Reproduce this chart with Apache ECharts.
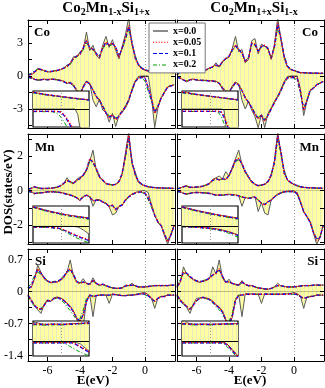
<!DOCTYPE html>
<html><head><meta charset="utf-8">
<script src="https://cdn.jsdelivr.net/npm/echarts@6/dist/echarts.min.js"></script>
<style>html,body{margin:0;padding:0;background:#fff}#c{width:325px;height:388px}</style>
</head><body><div id="c"></div><script>
// ---------- DATA ----------
const seriesNames = ['x=0.0', 'x=0.05', 'x=0.1', 'x=0.2'];
const xTickValues = [-6, -4, -2, 0];
const energy = [-7.2,-7.0,-6.8,-6.6,-6.4,-6.2,-6.0,-5.8,-5.6,-5.4,-5.2,-5.0,-4.8,-4.6,-4.4,-4.2,-4.0,-3.8,-3.6,-3.4,-3.2,-3.0,-2.8,-2.6,-2.4,-2.2,-2.0,-1.8,-1.6,-1.4,-1.2,-1.0,-0.8,-0.6,-0.4,-0.2,0.0,0.2,0.4,0.6,0.8,1.0,1.2,1.4,1.6,1.8];
const insetE = [-0.5,-0.45,-0.4,-0.35,-0.3,-0.25,-0.2,-0.15,-0.1,-0.05,0,0.05,0.1,0.15,0.2,0.25,0.3,0.35,0.4,0.45,0.5];

// Panel A = Co2Mn1-xSi1+x (left), Panel B = Co2Mn1+xSi1-x (right)
// Co, panel A
const coA_up_x00 = [0.08,0.12,0.30,0.70,0.62,0.48,0.38,0.36,0.45,0.48, 0.58,0.72,1.00,1.10,1.75,1.70,2.20,2.40,4.00,2.30, 2.80,1.90,1.55,2.80,3.60,2.60,3.30,2.30,1.55,2.70, 3.80,5.30,2.80,1.90,0.95,0.65,0.52,0.44,0.40,0.38, 0.36,0.35,0.34,0.33,0.32,0.30];
const coA_up_x05 = [0.10,0.15,0.35,0.60,0.60,0.50,0.40,0.40,0.45,0.50, 0.60,0.70,0.85,1.15,1.60,1.80,2.00,2.60,3.30,2.50, 2.50,2.00,1.70,2.60,3.10,2.80,3.00,2.60,1.70,2.60, 3.50,4.60,3.00,1.60,1.00,0.70,0.55,0.45,0.40,0.38, 0.36,0.35,0.34,0.33,0.32,0.30];
const coA_up_x10 = [0.10,0.16,0.38,0.62,0.58,0.48,0.40,0.41,0.45,0.52, 0.62,0.72,0.86,1.12,1.62,1.82,1.98,2.55,3.20,2.55, 2.45,2.05,1.72,2.55,3.05,2.80,2.95,2.62,1.75,2.55, 3.45,4.50,3.05,1.65,1.02,0.72,0.56,0.46,0.40,0.37, 0.36,0.35,0.34,0.33,0.32,0.30];
const coA_up_x20 = [0.12,0.25,0.48,0.60,0.52,0.45,0.40,0.42,0.47,0.52, 0.62,0.72,0.85,1.05,1.50,1.75,1.95,2.40,3.00,2.60, 2.35,2.05,1.80,2.45,2.90,2.75,2.85,2.60,1.85,2.45, 3.30,4.20,3.10,1.75,1.08,0.75,0.58,0.48,0.42,0.38, 0.36,0.35,0.34,0.33,0.32,0.30];
const coA_dn_x00 = [-0.08,-0.12,-0.28,-0.40,-0.38,-0.28,-0.38,-0.28,-0.28,-0.34, -0.38,-0.48,-0.70,-0.55,-0.80,-1.40,-1.90,-0.90,-0.45,-0.65, -2.20,-2.80,-2.10,-3.10,-3.30,-4.20,-3.40,-4.60,-3.60,-3.30, -2.90,-2.30,-1.20,-0.45,-0.05,0.00,0.00,0.00,-1.90,-4.70, -2.90,-2.00,-1.50,-1.00,-0.90,-0.80];
const coA_dn_x05 = [-0.10,-0.15,-0.30,-0.35,-0.35,-0.30,-0.35,-0.30,-0.30,-0.35, -0.40,-0.50,-0.65,-0.60,-0.85,-1.30,-1.70,-1.00,-0.50,-0.70, -1.30,-1.90,-2.20,-2.80,-3.40,-3.80,-3.50,-4.00,-3.70,-3.20, -2.80,-2.20,-1.30,-0.50,-0.15,-0.12,-0.15,-1.00,-2.00,-3.40, -2.80,-2.00,-1.50,-1.00,-0.90,-0.80];
const coA_dn_x10 = [-0.10,-0.16,-0.31,-0.36,-0.34,-0.31,-0.34,-0.31,-0.31,-0.36, -0.42,-0.52,-0.66,-0.62,-0.88,-1.28,-1.65,-1.02,-0.52,-0.72, -1.28,-1.85,-2.22,-2.75,-3.35,-3.75,-3.52,-3.95,-3.65,-3.20, -2.78,-2.18,-1.32,-0.52,-0.17,-0.14,-0.17,-1.10,-2.10,-3.35, -2.75,-2.00,-1.48,-1.00,-0.90,-0.80];
const coA_dn_x20 = [-0.12,-0.22,-0.34,-0.36,-0.33,-0.30,-0.33,-0.31,-0.32,-0.36, -0.44,-0.54,-0.66,-0.66,-0.92,-1.25,-1.55,-1.05,-0.58,-0.75, -1.25,-1.80,-2.20,-2.70,-3.25,-3.65,-3.50,-3.85,-3.60,-3.15, -2.75,-2.15,-1.35,-0.58,-0.22,-0.20,-0.45,-1.40,-2.30,-3.25, -2.70,-2.00,-1.45,-1.00,-0.90,-0.80];
// Co, panel B
const coB_up_x00 = [0.08,0.35,0.60,0.78,0.50,0.38,0.42,0.52,0.40,0.58, 0.72,0.80,1.20,0.80,1.35,1.55,1.70,2.50,3.60,2.20, 2.40,1.20,1.50,3.20,3.40,2.00,2.90,2.70,2.60,1.50, 2.90,5.30,3.30,1.60,0.80,0.58,0.48,0.38,0.29,0.29, 0.27,0.26,0.25,0.25,0.24,0.24];
const coB_up_x05 = [0.10,0.40,0.55,0.70,0.55,0.40,0.40,0.50,0.45,0.55, 0.70,0.85,1.00,0.85,1.30,1.60,1.75,2.40,2.80,2.40, 2.10,1.30,1.60,3.00,2.90,2.20,2.70,2.80,2.50,1.60, 2.70,4.80,3.40,1.75,0.85,0.60,0.50,0.40,0.30,0.30, 0.28,0.27,0.26,0.25,0.25,0.24];
const coB_up_x10 = [0.10,0.38,0.56,0.68,0.54,0.41,0.40,0.49,0.46,0.56, 0.70,0.84,0.98,0.87,1.28,1.58,1.78,2.35,2.75,2.42, 2.08,1.35,1.62,2.95,2.85,2.25,2.68,2.78,2.48,1.62, 2.65,4.70,3.40,1.78,0.88,0.62,0.50,0.40,0.31,0.30, 0.28,0.27,0.26,0.25,0.25,0.24];
const coB_up_x20 = [0.12,0.42,0.55,0.62,0.52,0.42,0.41,0.48,0.47,0.56, 0.70,0.82,0.95,0.88,1.25,1.55,1.80,2.30,2.65,2.40, 2.05,1.40,1.70,2.85,2.80,2.30,2.62,2.72,2.45,1.70, 2.60,4.40,3.35,1.85,0.92,0.64,0.52,0.41,0.32,0.30, 0.28,0.27,0.26,0.25,0.25,0.24];
const coB_dn_x00 = [-0.08,-0.18,-0.38,-0.55,-0.32,-0.28,-0.38,-0.42,-0.38,-0.42, -0.44,-0.42,-0.48,-0.68,-1.20,-1.50,-1.60,-0.90,-0.55,-0.75, -2.20,-3.00,-2.30,-3.10,-3.70,-4.70,-3.50,-4.70,-3.40,-2.90, -2.30,-1.80,-1.20,-0.50,-0.05,0.00,0.00,0.00,-1.20,-3.60, -2.30,-1.30,-1.10,-0.80,-0.65,-0.50];
const coB_dn_x05 = [-0.10,-0.20,-0.35,-0.50,-0.35,-0.30,-0.35,-0.40,-0.40,-0.40, -0.45,-0.45,-0.50,-0.65,-1.10,-1.40,-1.50,-1.00,-0.60,-0.80, -1.30,-2.00,-2.40,-2.90,-3.50,-3.90,-3.60,-4.10,-3.60,-3.00, -2.40,-1.90,-1.30,-0.60,-0.15,-0.12,-0.12,-0.18,-1.40,-3.10, -2.20,-1.30,-1.10,-0.80,-0.65,-0.50];
const coB_dn_x10 = [-0.10,-0.21,-0.36,-0.48,-0.36,-0.31,-0.35,-0.39,-0.41,-0.41, -0.46,-0.46,-0.52,-0.66,-1.08,-1.38,-1.48,-1.02,-0.62,-0.82, -1.32,-1.98,-2.38,-2.85,-3.45,-3.85,-3.58,-4.05,-3.58,-3.00, -2.42,-1.90,-1.32,-0.62,-0.17,-0.14,-0.14,-0.20,-1.45,-3.05, -2.20,-1.32,-1.10,-0.80,-0.65,-0.50];
const coB_dn_x20 = [-0.12,-0.24,-0.36,-0.45,-0.36,-0.32,-0.35,-0.38,-0.41,-0.42, -0.46,-0.48,-0.55,-0.70,-1.05,-1.35,-1.45,-1.05,-0.65,-0.85, -1.32,-1.95,-2.35,-2.80,-3.38,-3.75,-3.55,-3.95,-3.55,-3.00, -2.45,-1.92,-1.35,-0.66,-0.20,-0.17,-0.18,-0.40,-1.60,-2.95, -2.20,-1.35,-1.10,-0.80,-0.65,-0.50];
// Mn, panel A
const mnA_up_x00 = [0.09,0.12,0.25,0.15,0.12,0.14,0.12,0.14,0.18,0.19, 0.28,0.40,0.75,0.48,0.40,0.66,0.80,0.85,1.15,1.70, 2.35,1.20,0.75,0.65,0.40,0.36,0.32,0.38,0.50,0.95, 2.20,3.40,1.55,1.10,0.48,0.36,0.28,0.22,0.19,0.18, 0.17,0.16,0.15,0.15,0.14,0.14];
const mnA_up_x05 = [0.10,0.13,0.23,0.17,0.13,0.13,0.13,0.15,0.17,0.20, 0.29,0.42,0.60,0.52,0.42,0.62,0.70,0.90,1.20,1.87, 1.68,1.30,0.80,0.62,0.42,0.37,0.33,0.37,0.52,1.00, 2.06,3.20,1.68,0.90,0.52,0.37,0.29,0.23,0.20,0.18, 0.17,0.16,0.15,0.15,0.14,0.14];
const mnA_up_x10 = [0.10,0.14,0.22,0.18,0.13,0.13,0.14,0.15,0.17,0.21, 0.30,0.43,0.58,0.53,0.44,0.60,0.71,0.92,1.22,1.82, 1.66,1.28,0.82,0.60,0.43,0.37,0.34,0.37,0.53,1.02, 2.02,3.15,1.70,0.92,0.54,0.38,0.30,0.23,0.20,0.18, 0.17,0.16,0.15,0.15,0.14,0.14];
const mnA_up_x20 = [0.11,0.16,0.22,0.18,0.14,0.13,0.14,0.16,0.18,0.22, 0.31,0.44,0.56,0.52,0.45,0.58,0.70,0.92,1.20,1.72, 1.60,1.25,0.85,0.60,0.44,0.38,0.34,0.38,0.55,1.02, 1.95,3.00,1.75,0.95,0.56,0.39,0.30,0.24,0.20,0.18, 0.17,0.16,0.15,0.15,0.14,0.14];
const mnA_dn_x00 = [-0.04,-0.05,-0.18,-0.13,-0.11,-0.10,-0.05,-0.06,-0.05,-0.08, -0.09,-0.14,-0.19,-0.24,-0.29,-0.42,-0.58,-0.33,-0.24,-0.34, -0.90,-0.50,-0.52,-0.66,-0.75,-0.95,-1.40,-1.30,-0.90,-0.85, -0.52,-0.33,-0.20,-0.11,-0.04,0.00,0.00,-0.10,-0.80,-1.40, -1.85,-2.00,-2.60,-3.10,-2.50,-2.00];
const mnA_dn_x05 = [-0.05,-0.06,-0.17,-0.14,-0.12,-0.10,-0.06,-0.06,-0.06,-0.08, -0.10,-0.15,-0.20,-0.25,-0.30,-0.40,-0.54,-0.35,-0.25,-0.35, -0.60,-0.54,-0.54,-0.64,-0.73,-0.92,-0.83,-1.12,-0.92,-0.83, -0.54,-0.35,-0.21,-0.12,-0.08,-0.06,-0.13,-0.38,-0.83,-1.40, -1.80,-2.00,-2.55,-2.95,-2.55,-2.00];
const mnA_dn_x10 = [-0.05,-0.07,-0.16,-0.14,-0.12,-0.10,-0.07,-0.06,-0.07,-0.08, -0.11,-0.15,-0.21,-0.26,-0.31,-0.41,-0.52,-0.36,-0.26,-0.36, -0.58,-0.55,-0.55,-0.64,-0.74,-0.90,-0.84,-1.08,-0.92,-0.82, -0.55,-0.36,-0.22,-0.13,-0.09,-0.07,-0.15,-0.42,-0.86,-1.42, -1.80,-2.02,-2.52,-2.92,-2.55,-2.00];
const mnA_dn_x20 = [-0.06,-0.08,-0.16,-0.14,-0.12,-0.10,-0.07,-0.07,-0.07,-0.09, -0.12,-0.16,-0.22,-0.27,-0.33,-0.42,-0.50,-0.38,-0.28,-0.37, -0.56,-0.55,-0.56,-0.64,-0.74,-0.88,-0.84,-1.04,-0.92,-0.80, -0.56,-0.38,-0.24,-0.15,-0.11,-0.09,-0.20,-0.52,-0.95,-1.45, -1.82,-2.05,-2.50,-2.88,-2.55,-2.00];
// Mn, panel B
const mnB_up_x00 = [0.09,0.16,0.24,0.30,0.17,0.19,0.22,0.21,0.28,0.31, 0.40,0.65,0.75,0.85,0.68,1.10,0.85,1.35,1.85,2.35, 1.50,1.05,0.78,0.50,0.36,0.28,0.32,0.38,0.50,0.85, 1.75,3.40,2.10,1.20,0.60,0.46,0.36,0.28,0.22,0.19, 0.18,0.17,0.16,0.15,0.15,0.14];
const mnB_up_x05 = [0.10,0.17,0.23,0.27,0.19,0.20,0.21,0.22,0.27,0.33, 0.42,0.62,0.71,0.62,0.71,0.62,0.90,1.30,1.77,1.87, 1.58,1.10,0.80,0.52,0.37,0.29,0.33,0.37,0.52,0.90, 1.68,3.20,2.25,1.00,0.62,0.48,0.37,0.29,0.23,0.20, 0.18,0.17,0.16,0.15,0.15,0.14];
const mnB_up_x10 = [0.10,0.16,0.24,0.26,0.20,0.20,0.21,0.23,0.27,0.34, 0.43,0.60,0.70,0.63,0.70,0.64,0.88,1.28,1.74,1.84, 1.56,1.12,0.80,0.53,0.38,0.30,0.33,0.38,0.53,0.92, 1.65,3.15,2.25,1.02,0.63,0.48,0.37,0.29,0.23,0.20, 0.18,0.17,0.16,0.15,0.15,0.14];
const mnB_up_x20 = [0.11,0.18,0.24,0.25,0.21,0.21,0.22,0.24,0.28,0.35, 0.44,0.58,0.68,0.63,0.68,0.66,0.86,1.24,1.68,1.78, 1.52,1.14,0.82,0.55,0.40,0.31,0.34,0.39,0.55,0.95, 1.62,3.00,2.20,1.05,0.65,0.50,0.38,0.30,0.24,0.20, 0.18,0.17,0.16,0.15,0.15,0.14];
const mnB_dn_x00 = [-0.04,-0.05,-0.16,-0.21,-0.14,-0.11,-0.09,-0.10,-0.12,-0.12, -0.14,-0.19,-0.26,-0.24,-0.26,-0.22,-0.20,-0.22,-0.24,-0.29, -0.90,-0.38,-0.45,-0.38,-0.34,-1.20,-0.70,-1.30,-1.40,-0.52, -0.33,-0.20,-0.11,-0.05,-0.02,0.00,0.00,-0.12,-0.62,-1.22, -1.50,-1.78,-2.45,-3.10,-2.70,-2.00];
const mnB_dn_x05 = [-0.05,-0.06,-0.15,-0.19,-0.15,-0.12,-0.10,-0.10,-0.12,-0.13, -0.15,-0.20,-0.25,-0.25,-0.25,-0.23,-0.21,-0.23,-0.25,-0.30, -0.35,-0.40,-0.44,-0.40,-0.35,-0.54,-0.73,-0.83,-0.64,-0.54, -0.35,-0.21,-0.12,-0.06,-0.04,-0.04,-0.05,-0.15,-0.64,-1.20, -1.50,-1.80,-2.40,-2.85,-2.75,-2.00];
const mnB_dn_x10 = [-0.05,-0.07,-0.15,-0.18,-0.15,-0.12,-0.10,-0.11,-0.12,-0.13, -0.16,-0.21,-0.25,-0.26,-0.25,-0.23,-0.22,-0.24,-0.26,-0.30, -0.36,-0.40,-0.44,-0.41,-0.37,-0.54,-0.72,-0.80,-0.64,-0.54, -0.36,-0.22,-0.13,-0.07,-0.05,-0.05,-0.06,-0.17,-0.66,-1.20, -1.50,-1.82,-2.40,-2.82,-2.72,-2.00];
const mnB_dn_x20 = [-0.06,-0.08,-0.15,-0.18,-0.15,-0.12,-0.11,-0.11,-0.12,-0.14, -0.17,-0.21,-0.25,-0.26,-0.26,-0.24,-0.23,-0.25,-0.27,-0.31, -0.37,-0.41,-0.44,-0.42,-0.39,-0.54,-0.70,-0.78,-0.64,-0.54, -0.37,-0.23,-0.14,-0.08,-0.06,-0.06,-0.08,-0.22,-0.70,-1.22, -1.52,-1.85,-2.38,-2.78,-2.70,-2.00];
// Si, panel A
const siA_up_x00 = [0.06,0.09,0.27,0.58,0.42,0.28,0.22,0.19,0.20,0.21, 0.24,0.30,0.42,0.69,0.34,0.20,0.18,0.28,0.17,0.15, 0.30,0.17,0.13,0.16,0.12,0.10,0.08,0.07,0.07,0.08, 0.14,0.13,0.18,0.12,0.10,0.10,0.10,0.11,0.12,0.13, 0.13,0.13,0.13,0.13,0.14,0.14];
const siA_up_x05 = [0.07,0.10,0.29,0.50,0.40,0.29,0.23,0.20,0.21,0.21, 0.25,0.32,0.43,0.50,0.36,0.21,0.18,0.21,0.18,0.16, 0.25,0.18,0.14,0.16,0.13,0.10,0.08,0.07,0.07,0.08, 0.13,0.13,0.14,0.13,0.10,0.10,0.10,0.11,0.12,0.13, 0.13,0.13,0.13,0.13,0.14,0.14];
const siA_up_x10 = [0.07,0.11,0.30,0.48,0.40,0.30,0.23,0.20,0.21,0.22, 0.26,0.33,0.43,0.49,0.37,0.22,0.18,0.21,0.18,0.16, 0.24,0.18,0.14,0.16,0.13,0.10,0.08,0.07,0.07,0.08, 0.12,0.13,0.14,0.13,0.10,0.10,0.10,0.11,0.12,0.13, 0.13,0.13,0.13,0.13,0.14,0.14];
const siA_up_x20 = [0.09,0.18,0.35,0.42,0.38,0.30,0.24,0.21,0.22,0.23, 0.27,0.34,0.45,0.45,0.36,0.23,0.19,0.21,0.18,0.16, 0.22,0.18,0.14,0.15,0.13,0.10,0.08,0.07,0.07,0.08, 0.12,0.13,0.13,0.13,0.10,0.10,0.10,0.11,0.12,0.13, 0.13,0.13,0.13,0.13,0.14,0.14];
const siA_dn_x00 = [-0.07,-0.18,-0.30,-0.40,-0.48,-0.28,-0.18,-0.22,-0.14,-0.12, -0.14,-0.18,-0.25,-0.32,-0.43,-0.60,-0.73,-0.77,-0.20,-0.07, -0.55,-0.09,-0.08,-0.07,-0.08,-0.26,-0.06,-0.07,-0.08,-0.09, -0.09,-0.08,-0.08,-0.07,-0.05,-0.03,-0.02,-0.07,-0.14,-0.37, -0.14,-0.11,-0.10,-0.08,-0.08,-0.08];
const siA_dn_x05 = [-0.08,-0.19,-0.30,-0.37,-0.40,-0.30,-0.19,-0.21,-0.15,-0.13, -0.15,-0.19,-0.26,-0.33,-0.44,-0.59,-0.66,-0.51,-0.22,-0.08, -0.11,-0.09,-0.08,-0.08,-0.08,-0.08,-0.06,-0.07,-0.08,-0.09, -0.09,-0.08,-0.08,-0.07,-0.06,-0.05,-0.04,-0.08,-0.15,-0.22, -0.15,-0.11,-0.11,-0.08,-0.08,-0.08];
const siA_dn_x10 = [-0.08,-0.20,-0.31,-0.37,-0.39,-0.30,-0.20,-0.21,-0.15,-0.13, -0.16,-0.20,-0.27,-0.34,-0.45,-0.58,-0.65,-0.50,-0.22,-0.08, -0.11,-0.09,-0.08,-0.08,-0.08,-0.08,-0.06,-0.07,-0.08,-0.09, -0.09,-0.08,-0.08,-0.07,-0.06,-0.05,-0.05,-0.09,-0.15,-0.22, -0.15,-0.11,-0.11,-0.08,-0.08,-0.08];
const siA_dn_x20 = [-0.10,-0.24,-0.32,-0.36,-0.37,-0.30,-0.21,-0.21,-0.16,-0.14, -0.18,-0.24,-0.33,-0.42,-0.52,-0.62,-0.60,-0.40,-0.15,-0.08, -0.10,-0.09,-0.08,-0.08,-0.08,-0.08,-0.07,-0.07,-0.08,-0.09, -0.09,-0.08,-0.08,-0.07,-0.06,-0.06,-0.07,-0.11,-0.17,-0.21, -0.15,-0.11,-0.11,-0.08,-0.08,-0.08];
// Si, panel B
const siB_up_x00 = [0.09,0.20,0.54,0.38,0.31,0.26,0.22,0.20,0.22,0.24, 0.28,0.54,0.38,0.69,0.30,0.19,0.27,0.17,0.15,0.13, 0.24,0.15,0.12,0.13,0.10,0.08,0.07,0.05,0.05,0.07, 0.10,0.18,0.12,0.11,0.10,0.10,0.10,0.11,0.12,0.13, 0.13,0.13,0.14,0.14,0.14,0.14];
const siB_up_x05 = [0.10,0.21,0.43,0.40,0.32,0.27,0.23,0.21,0.23,0.25, 0.29,0.36,0.40,0.50,0.32,0.20,0.21,0.18,0.16,0.14, 0.21,0.16,0.13,0.13,0.10,0.08,0.07,0.05,0.05,0.07, 0.10,0.13,0.13,0.11,0.10,0.10,0.10,0.11,0.12,0.13, 0.13,0.13,0.14,0.14,0.14,0.14];
const siB_up_x10 = [0.10,0.22,0.42,0.40,0.33,0.27,0.23,0.21,0.23,0.25, 0.30,0.36,0.41,0.49,0.33,0.21,0.21,0.18,0.16,0.14, 0.20,0.16,0.13,0.13,0.10,0.08,0.07,0.06,0.05,0.07, 0.10,0.13,0.13,0.11,0.10,0.10,0.10,0.11,0.12,0.13, 0.13,0.13,0.14,0.14,0.14,0.14];
const siB_up_x20 = [0.12,0.26,0.40,0.38,0.32,0.27,0.24,0.22,0.24,0.26, 0.30,0.36,0.42,0.46,0.33,0.22,0.21,0.18,0.16,0.14, 0.19,0.16,0.13,0.13,0.10,0.08,0.07,0.06,0.06,0.07, 0.10,0.12,0.13,0.11,0.10,0.10,0.10,0.11,0.12,0.13, 0.13,0.13,0.14,0.14,0.14,0.14];
const siB_dn_x00 = [-0.07,-0.18,-0.25,-0.35,-0.48,-0.28,-0.15,-0.14,-0.12,-0.14, -0.16,-0.21,-0.29,-0.34,-0.43,-0.64,-0.77,-0.57,-0.18,-0.07, -0.55,-0.05,-0.06,-0.05,-0.06,-0.06,-0.26,-0.05,-0.06,-0.06, -0.06,-0.06,-0.06,-0.05,-0.05,-0.04,-0.02,-0.05,-0.10,-0.37, -0.12,-0.11,-0.10,-0.08,-0.08,-0.08];
const siB_dn_x05 = [-0.08,-0.19,-0.26,-0.33,-0.40,-0.30,-0.19,-0.15,-0.13,-0.15, -0.17,-0.22,-0.30,-0.35,-0.44,-0.62,-0.73,-0.55,-0.19,-0.08, -0.08,-0.06,-0.06,-0.06,-0.06,-0.06,-0.06,-0.06,-0.06,-0.06, -0.06,-0.06,-0.06,-0.06,-0.06,-0.05,-0.04,-0.06,-0.11,-0.15, -0.13,-0.11,-0.10,-0.08,-0.08,-0.08];
const siB_dn_x10 = [-0.08,-0.20,-0.27,-0.33,-0.39,-0.30,-0.20,-0.15,-0.13,-0.15, -0.18,-0.23,-0.30,-0.36,-0.45,-0.61,-0.71,-0.54,-0.19,-0.08, -0.08,-0.06,-0.06,-0.06,-0.06,-0.06,-0.06,-0.06,-0.06,-0.06, -0.06,-0.06,-0.06,-0.06,-0.06,-0.05,-0.05,-0.07,-0.11,-0.15, -0.13,-0.11,-0.10,-0.08,-0.08,-0.08];
const siB_dn_x20 = [-0.10,-0.23,-0.28,-0.33,-0.37,-0.30,-0.21,-0.16,-0.14,-0.16, -0.19,-0.25,-0.33,-0.40,-0.50,-0.62,-0.66,-0.48,-0.16,-0.08, -0.08,-0.06,-0.06,-0.06,-0.06,-0.06,-0.06,-0.06,-0.06,-0.06, -0.06,-0.06,-0.06,-0.06,-0.06,-0.06,-0.06,-0.08,-0.12,-0.15, -0.13,-0.11,-0.10,-0.08,-0.08,-0.08];

// Insets (zoom around the Fermi level)
const coA_in_up_x00 = [0.93,0.90,0.87,0.85,0.82,0.79,0.77,0.75,0.73,0.71,0.69,0.67,0.65,0.63,0.61,0.59,0.57,0.56,0.54,0.52,0.50];
const coA_in_up_x05 = [0.94,0.91,0.88,0.85,0.82,0.80,0.78,0.76,0.74,0.72,0.70,0.68,0.66,0.64,0.62,0.60,0.58,0.56,0.55,0.53,0.51];
const coA_in_up_x10 = [0.92,0.89,0.86,0.84,0.81,0.79,0.77,0.75,0.73,0.71,0.69,0.67,0.65,0.63,0.61,0.59,0.57,0.55,0.54,0.52,0.50];
const coA_in_up_x20 = [0.90,0.87,0.85,0.82,0.80,0.78,0.76,0.74,0.72,0.70,0.68,0.66,0.64,0.62,0.60,0.58,0.56,0.54,0.53,0.51,0.49];
const coA_in_dn_x00 = [0,0,0,0,0,0,0,0,0,0,0,0,0,0,0,0,-0.30,-1.30,-1.30,-1.30,-1.30];
const coA_in_dn_x05 = [-0.12,-0.12,-0.12,-0.12,-0.12,-0.12,-0.12,-0.12,-0.13,-0.14,-0.16,-0.30,-0.50,-0.75,-1.00,-1.20,-1.30,-1.30,-1.30,-1.30,-1.30];
const coA_in_dn_x10 = [-0.13,-0.13,-0.13,-0.13,-0.13,-0.13,-0.13,-0.13,-0.14,-0.15,-0.18,-0.34,-0.56,-0.82,-1.10,-1.30,-1.30,-1.30,-1.30,-1.30,-1.30];
const coA_in_dn_x20 = [-0.15,-0.15,-0.15,-0.15,-0.15,-0.15,-0.15,-0.16,-0.20,-0.30,-0.45,-0.70,-0.95,-1.20,-1.30,-1.30,-1.30,-1.30,-1.30,-1.30,-1.30];
const coB_in_up_x00 = [0.95,0.97,0.92,0.88,0.85,0.82,0.80,0.77,0.75,0.73,0.71,0.69,0.67,0.65,0.63,0.61,0.59,0.57,0.55,0.53,0.51];
const coB_in_up_x05 = [0.93,0.91,0.89,0.86,0.84,0.81,0.79,0.77,0.75,0.73,0.71,0.69,0.67,0.65,0.63,0.61,0.59,0.57,0.55,0.53,0.52];
const coB_in_up_x10 = [0.92,0.90,0.88,0.86,0.83,0.81,0.79,0.77,0.75,0.73,0.71,0.69,0.67,0.65,0.63,0.61,0.59,0.57,0.55,0.53,0.51];
const coB_in_up_x20 = [0.90,0.88,0.86,0.84,0.82,0.80,0.78,0.76,0.74,0.72,0.70,0.68,0.66,0.64,0.62,0.60,0.58,0.56,0.54,0.52,0.50];
const coB_in_dn_x00 = [0,0,0,0,0,0,0,0,0,0,0,0,0,0,0,-0.05,-1.30,-1.30,-1.30,-1.30,-1.30];
const coB_in_dn_x05 = [-0.12,-0.12,-0.12,-0.12,-0.12,-0.12,-0.12,-0.12,-0.12,-0.12,-0.12,-0.12,-0.12,-0.13,-0.16,-0.40,-0.80,-1.20,-1.30,-1.30,-1.30];
const coB_in_dn_x10 = [-0.13,-0.13,-0.13,-0.13,-0.13,-0.13,-0.13,-0.13,-0.13,-0.13,-0.13,-0.13,-0.13,-0.14,-0.18,-0.45,-0.85,-1.25,-1.30,-1.30,-1.30];
const coB_in_dn_x20 = [-0.14,-0.14,-0.14,-0.14,-0.14,-0.14,-0.14,-0.14,-0.14,-0.14,-0.14,-0.14,-0.15,-0.20,-0.40,-0.80,-1.20,-1.30,-1.30,-1.30,-1.30];
const mnA_in_up_x00 = [0.97,0.93,0.89,0.85,0.81,0.78,0.74,0.71,0.68,0.65,0.62,0.59,0.57,0.54,0.52,0.50,0.48,0.46,0.44,0.42,0.40];
const mnA_in_up_x05 = [0.96,0.92,0.88,0.84,0.80,0.77,0.73,0.70,0.67,0.64,0.61,0.58,0.56,0.53,0.51,0.49,0.47,0.45,0.43,0.41,0.39];
const mnA_in_up_x10 = [0.95,0.91,0.87,0.83,0.79,0.76,0.72,0.69,0.66,0.63,0.60,0.57,0.55,0.52,0.50,0.48,0.46,0.44,0.42,0.40,0.38];
const mnA_in_up_x20 = [0.93,0.89,0.85,0.81,0.77,0.73,0.70,0.67,0.64,0.61,0.58,0.55,0.52,0.49,0.47,0.45,0.42,0.40,0.38,0.36,0.33];
const mnA_in_dn_x00 = [-0.02,-0.02,-0.02,-0.02,-0.02,-0.02,-0.02,-0.02,-0.02,-0.02,-0.02,-0.02,-0.02,-0.02,-0.02,-0.03,-0.05,-0.12,-0.20,-0.30,-0.40];
const mnA_in_dn_x05 = [-0.05,-0.05,-0.05,-0.05,-0.05,-0.05,-0.06,-0.07,-0.08,-0.10,-0.13,-0.19,-0.25,-0.31,-0.38,-0.44,-0.50,-0.55,-0.60,-0.64,-0.68];
const mnA_in_dn_x10 = [-0.06,-0.06,-0.06,-0.06,-0.06,-0.06,-0.07,-0.08,-0.09,-0.11,-0.14,-0.20,-0.27,-0.33,-0.40,-0.46,-0.52,-0.58,-0.63,-0.68,-0.72];
const mnA_in_dn_x20 = [-0.07,-0.07,-0.07,-0.07,-0.07,-0.07,-0.08,-0.10,-0.12,-0.14,-0.18,-0.25,-0.33,-0.41,-0.48,-0.55,-0.62,-0.68,-0.74,-0.79,-0.83];
const mnB_in_up_x00 = [0.97,0.93,0.89,0.86,0.82,0.79,0.76,0.73,0.70,0.67,0.64,0.61,0.58,0.56,0.53,0.51,0.49,0.46,0.44,0.42,0.40];
const mnB_in_up_x05 = [0.96,0.92,0.88,0.85,0.81,0.78,0.75,0.72,0.69,0.66,0.63,0.60,0.57,0.55,0.52,0.50,0.48,0.45,0.43,0.41,0.39];
const mnB_in_up_x10 = [0.95,0.91,0.87,0.84,0.80,0.77,0.74,0.71,0.68,0.65,0.62,0.59,0.56,0.54,0.51,0.49,0.47,0.44,0.42,0.40,0.38];
const mnB_in_up_x20 = [0.93,0.89,0.85,0.82,0.78,0.75,0.72,0.69,0.66,0.63,0.60,0.57,0.54,0.51,0.49,0.46,0.44,0.41,0.39,0.36,0.34];
const mnB_in_dn_x00 = [-0.02,-0.02,-0.03,-0.03,-0.04,-0.05,-0.06,-0.07,-0.08,-0.09,-0.10,-0.12,-0.14,-0.16,-0.19,-0.22,-0.26,-0.30,-0.35,-0.40,-0.45];
const mnB_in_dn_x05 = [-0.03,-0.03,-0.04,-0.04,-0.05,-0.06,-0.07,-0.08,-0.09,-0.10,-0.11,-0.13,-0.15,-0.17,-0.20,-0.23,-0.27,-0.31,-0.36,-0.41,-0.46];
const mnB_in_dn_x10 = [-0.03,-0.03,-0.04,-0.05,-0.05,-0.06,-0.07,-0.08,-0.09,-0.10,-0.12,-0.14,-0.16,-0.18,-0.21,-0.24,-0.28,-0.32,-0.37,-0.42,-0.47];
const mnB_in_dn_x20 = [-0.04,-0.04,-0.05,-0.06,-0.06,-0.07,-0.08,-0.09,-0.11,-0.12,-0.14,-0.16,-0.19,-0.22,-0.25,-0.29,-0.33,-0.38,-0.44,-0.50,-0.56];
const siA_in_up_x00 = [0.118,0.122,0.116,0.112,0.110,0.110,0.111,0.112,0.111,0.110,0.110,0.110,0.111,0.112,0.113,0.114,0.115,0.116,0.117,0.118,0.118];
const siA_in_up_x05 = [0.112,0.111,0.110,0.109,0.108,0.108,0.109,0.110,0.110,0.109,0.109,0.109,0.110,0.111,0.112,0.113,0.114,0.115,0.116,0.117,0.117];
const siA_in_up_x10 = [0.110,0.110,0.109,0.108,0.107,0.107,0.108,0.109,0.109,0.108,0.108,0.108,0.109,0.110,0.111,0.112,0.113,0.114,0.115,0.116,0.116];
const siA_in_up_x20 = [0.106,0.106,0.105,0.105,0.104,0.104,0.105,0.106,0.106,0.106,0.106,0.106,0.107,0.108,0.109,0.110,0.111,0.112,0.112,0.113,0.113];
const siA_in_dn_x00 = [-0.004,-0.004,-0.004,-0.004,-0.004,-0.004,-0.004,-0.004,-0.004,-0.004,-0.004,-0.004,-0.004,-0.004,-0.004,-0.004,-0.008,-0.015,-0.030,-0.045,-0.060];
const siA_in_dn_x05 = [-0.006,-0.006,-0.006,-0.006,-0.006,-0.006,-0.006,-0.006,-0.006,-0.006,-0.006,-0.006,-0.006,-0.006,-0.006,-0.012,-0.022,-0.032,-0.042,-0.052,-0.062];
const siA_in_dn_x10 = [-0.007,-0.007,-0.007,-0.007,-0.007,-0.007,-0.007,-0.007,-0.007,-0.007,-0.007,-0.007,-0.007,-0.007,-0.007,-0.014,-0.025,-0.035,-0.046,-0.056,-0.066];
const siA_in_dn_x20 = [-0.008,-0.008,-0.008,-0.008,-0.008,-0.008,-0.008,-0.008,-0.008,-0.008,-0.008,-0.008,-0.018,-0.028,-0.038,-0.048,-0.058,-0.066,-0.074,-0.082,-0.088];
const siB_in_up_x00 = [0.125,0.130,0.118,0.113,0.111,0.110,0.110,0.111,0.111,0.110,0.110,0.110,0.111,0.111,0.112,0.112,0.113,0.113,0.114,0.114,0.115];
const siB_in_up_x05 = [0.113,0.114,0.112,0.110,0.109,0.109,0.109,0.110,0.110,0.109,0.109,0.109,0.110,0.110,0.111,0.111,0.112,0.112,0.113,0.113,0.114];
const siB_in_up_x10 = [0.112,0.113,0.111,0.109,0.108,0.108,0.108,0.109,0.109,0.108,0.108,0.108,0.109,0.109,0.110,0.110,0.111,0.111,0.112,0.112,0.113];
const siB_in_up_x20 = [0.109,0.110,0.108,0.107,0.106,0.106,0.106,0.107,0.107,0.106,0.106,0.106,0.107,0.107,0.108,0.108,0.109,0.109,0.110,0.110,0.111];
const siB_in_dn_x00 = [-0.004,-0.004,-0.004,-0.004,-0.004,-0.004,-0.004,-0.004,-0.004,-0.004,-0.004,-0.004,-0.004,-0.004,-0.004,-0.004,-0.015,-0.030,-0.050,-0.070,-0.090];
const siB_in_dn_x05 = [-0.006,-0.006,-0.006,-0.006,-0.006,-0.006,-0.006,-0.006,-0.006,-0.006,-0.006,-0.006,-0.006,-0.006,-0.006,-0.006,-0.018,-0.034,-0.054,-0.074,-0.094];
const siB_in_dn_x10 = [-0.007,-0.007,-0.007,-0.007,-0.007,-0.007,-0.007,-0.007,-0.007,-0.007,-0.007,-0.007,-0.007,-0.007,-0.007,-0.007,-0.020,-0.036,-0.056,-0.076,-0.096];
const siB_in_dn_x20 = [-0.008,-0.008,-0.008,-0.008,-0.008,-0.008,-0.008,-0.008,-0.008,-0.008,-0.008,-0.008,-0.008,-0.008,-0.008,-0.015,-0.030,-0.048,-0.066,-0.084,-0.100];

// ---------- LAYOUT / STYLE ----------
const FONT = '"Liberation Serif","Times New Roman",serif';
const X_MIN = -7.2, X_MAX = 1.85;
const colLeft = [28, 177], colW = 147;
const rows = [
  {top: 20, h: 108, min: -4.73, max: 5.09, ticks: [-4.5,-3,-1.5,0,1.5,3,4.5], labels: [-3,0,3]},
  {top: 134, h: 110, min: -3.08, max: 3.28, ticks: [-3,-2,-1,0,1,2,3], labels: [-2,0,2]},
  {top: 249, h: 112, min: -1.52, max: 0.93, ticks: [-1.4,-1.05,-0.7,-0.35,0,0.35,0.7], labels: [-1.4,-0.7,0,0.7]}
];
const insetLeft = [33, 182], insetW = 56;
const insetRows = [
  {top: 91, h: 36, min: -1, max: 1},
  {top: 206, h: 37, min: -0.85, max: 1},
  {top: 321, h: 35, min: -0.09, max: 0.13}
];
const lineColors = ['#5a5a5a', '#ff0000', '#0000ff', '#00a000'];
const lineStyles = [
  {width: 1, type: 'solid'},
  {width: 1.4, type: [1.2, 1.8]},
  {width: 1.3, type: [4, 2]},
  {width: 1, type: [4, 2, 1, 2]}
];
// legend sample glyphs (solid, dotted, dashed, dash-dot)
const legendIcons = [
  'rect',
  'path://M0,0h1.2v1h-1.2z M2.8,0h1.2v1h-1.2z M5.6,0h1.2v1h-1.2z M8.4,0h1.2v1h-1.2z M11.2,0h1.2v1h-1.2z M14,0h1v1h-1z',
  'path://M0,0h4v1h-4z M6,0h4v1h-4z M12,0h3v1h-3z',
  'path://M0,0h4v1h-4z M6,0h1v1h-1z M9,0h4v1h-4z M15,0h0.01v1h-0.01z'
];
const zMain = [2, 5, 4, 3], zInset = [21, 24, 23, 22];

const panels = [
  {col:0,row:0, up:[coA_up_x00,coA_up_x05,coA_up_x10,coA_up_x20], dn:[coA_dn_x00,coA_dn_x05,coA_dn_x10,coA_dn_x20], iup:[coA_in_up_x00,coA_in_up_x05,coA_in_up_x10,coA_in_up_x20], idn:[coA_in_dn_x00,coA_in_dn_x05,coA_in_dn_x10,coA_in_dn_x20]},
  {col:1,row:0, up:[coB_up_x00,coB_up_x05,coB_up_x10,coB_up_x20], dn:[coB_dn_x00,coB_dn_x05,coB_dn_x10,coB_dn_x20], iup:[coB_in_up_x00,coB_in_up_x05,coB_in_up_x10,coB_in_up_x20], idn:[coB_in_dn_x00,coB_in_dn_x05,coB_in_dn_x10,coB_in_dn_x20]},
  {col:0,row:1, up:[mnA_up_x00,mnA_up_x05,mnA_up_x10,mnA_up_x20], dn:[mnA_dn_x00,mnA_dn_x05,mnA_dn_x10,mnA_dn_x20], iup:[mnA_in_up_x00,mnA_in_up_x05,mnA_in_up_x10,mnA_in_up_x20], idn:[mnA_in_dn_x00,mnA_in_dn_x05,mnA_in_dn_x10,mnA_in_dn_x20]},
  {col:1,row:1, up:[mnB_up_x00,mnB_up_x05,mnB_up_x10,mnB_up_x20], dn:[mnB_dn_x00,mnB_dn_x05,mnB_dn_x10,mnB_dn_x20], iup:[mnB_in_up_x00,mnB_in_up_x05,mnB_in_up_x10,mnB_in_up_x20], idn:[mnB_in_dn_x00,mnB_in_dn_x05,mnB_in_dn_x10,mnB_in_dn_x20]},
  {col:0,row:2, up:[siA_up_x00,siA_up_x05,siA_up_x10,siA_up_x20], dn:[siA_dn_x00,siA_dn_x05,siA_dn_x10,siA_dn_x20], iup:[siA_in_up_x00,siA_in_up_x05,siA_in_up_x10,siA_in_up_x20], idn:[siA_in_dn_x00,siA_in_dn_x05,siA_in_dn_x10,siA_in_dn_x20]},
  {col:1,row:2, up:[siB_up_x00,siB_up_x05,siB_up_x10,siB_up_x20], dn:[siB_dn_x00,siB_dn_x05,siB_dn_x10,siB_dn_x20], iup:[siB_in_up_x00,siB_in_up_x05,siB_in_up_x10,siB_in_up_x20], idn:[siB_in_dn_x00,siB_in_dn_x05,siB_in_dn_x10,siB_in_dn_x20]}
];

function makePattern() {
  const c = document.createElement('canvas'); c.width = 4; c.height = 4;
  const g = c.getContext('2d');
  g.fillStyle = '#ffffa2'; g.fillRect(0, 0, 4, 4);
  g.fillStyle = '#eaeac0'; g.fillRect(0, 0, 1, 4);
  return c;
}
const fillPattern = {image: makePattern(), repeat: 'repeat'};

const grid = [], xAxis = [], yAxis = [], series = [];

function xAx(gi, pos, showLab) {
  return {gridIndex: gi, type: 'value', min: X_MIN, max: X_MAX, position: pos, z: 6,
    axisLine: {show: true, onZero: false, lineStyle: {color: '#000', width: 1}},
    axisTick: {show: true, inside: true, length: 4, customValues: xTickValues, lineStyle: {color: '#000', width: 1}},
    axisLabel: {show: showLab, customValues: xTickValues, color: '#000', fontFamily: FONT, fontSize: 12, margin: 4},
    splitLine: {show: false}};
}
function yAx(gi, pos, R, showLab) {
  return {gridIndex: gi, type: 'value', min: R.min, max: R.max, position: pos, z: 6,
    axisLine: {show: true, onZero: false, lineStyle: {color: '#000', width: 1}},
    axisTick: {show: true, inside: true, length: 4, customValues: R.ticks, lineStyle: {color: '#000', width: 1}},
    axisLabel: {show: showLab, customValues: R.labels, color: '#000', fontFamily: FONT, fontSize: 12, margin: 5},
    splitLine: {show: false}};
}
function pairs(xs, ys) { return xs.map((x, i) => [x, ys[i]]); }
function mkSeries(xs, ys, k, xi, yi, zArr, marks) {
  const s = {type: 'line', name: seriesNames[k], xAxisIndex: xi, yAxisIndex: yi,
    data: pairs(xs, ys), symbol: 'none', silent: true, z: zArr[k],
    color: lineColors[k], itemStyle: {color: lineColors[k]},
    lineStyle: Object.assign({color: lineColors[k]}, lineStyles[k])};
  if (k === 0) s.areaStyle = {color: fillPattern, opacity: 1};
  if (marks) s.markLine = marks;
  return s;
}
function marksFor(z) {
  return {silent: true, symbol: 'none', label: {show: false}, z: z, animation: false,
    data: [
      {yAxis: 0, lineStyle: {color: '#000', width: 1, type: 'solid'}},
      {xAxis: 0, lineStyle: {color: '#999', width: 1, type: [1, 2]}}
    ]};
}

panels.forEach(p => {
  const R = rows[p.row], L = colLeft[p.col];
  const gi = grid.length;
  grid.push({left: L, top: R.top, width: colW, height: R.h});
  const xb = xAxis.length;
  xAxis.push(xAx(gi, 'bottom', p.row === 2), xAx(gi, 'top', false));
  const yl = yAxis.length;
  yAxis.push(yAx(gi, 'left', R, p.col === 0), yAx(gi, 'right', R, false));
  p.up.forEach((arr, k) => series.push(mkSeries(energy, arr, k, xb, yl, zMain, k === 0 ? marksFor(1) : null)));
  p.dn.forEach((arr, k) => series.push(mkSeries(energy, arr, k, xb, yl, zMain, null)));
  // inset
  const IR = insetRows[p.row];
  const ig = grid.length;
  grid.push({left: insetLeft[p.col], top: IR.top, width: insetW, height: IR.h, show: true,
    backgroundColor: '#fff', borderColor: '#000', borderWidth: 1.2, z: 20});
  const ix = xAxis.length;
  xAxis.push({gridIndex: ig, type: 'value', min: -0.5, max: 0.5, show: false});
  const iy = yAxis.length;
  yAxis.push({gridIndex: ig, type: 'value', min: IR.min, max: IR.max, show: false});
  p.iup.forEach((arr, k) => series.push(mkSeries(insetE, arr, k, ix, iy, zInset, k === 0 ? marksFor(25) : null)));
  p.idn.forEach((arr, k) => series.push(mkSeries(insetE, arr, k, ix, iy, zInset, null)));
});

const bold = (size) => 'bold ' + size + 'px ' + FONT;
const graphic = [
  {type: 'text', x: 106, y: 1, z: 40, style: {text: '{a|Co}{b|2}{a|Mn}{b|1-x}{a|Si}{b|1+x}', align: 'center', verticalAlign: 'top', fill: '#000',
    rich: {a: {font: bold(15), lineHeight: 16, verticalAlign: 'top'}, b: {font: bold(10), lineHeight: 16, verticalAlign: 'top', padding: [6, 0, 0, 0]}}}},
  {type: 'text', x: 254, y: 1, z: 40, style: {text: '{a|Co}{b|2}{a|Mn}{b|1+x}{a|Si}{b|1-x}', align: 'center', verticalAlign: 'top', fill: '#000',
    rich: {a: {font: bold(15), lineHeight: 16, verticalAlign: 'top'}, b: {font: bold(10), lineHeight: 16, verticalAlign: 'top', padding: [6, 0, 0, 0]}}}},
  {type: 'text', x: 9, y: 192, rotation: Math.PI / 2, z: 40, style: {text: 'DOS(states/eV)', font: bold(13), fill: '#000', align: 'center', verticalAlign: 'middle'}},
  {type: 'text', x: 93, y: 381, z: 40, style: {text: 'E(eV)', font: bold(13), fill: '#000', align: 'center', verticalAlign: 'middle'}},
  {type: 'text', x: 250, y: 381, z: 40, style: {text: 'E(eV)', font: bold(13), fill: '#000', align: 'center', verticalAlign: 'middle'}},
  {type: 'text', x: 34, y: 33, z: 40, style: {text: 'Co', font: bold(13), fill: '#000', align: 'left', verticalAlign: 'middle'}},
  {type: 'text', x: 318, y: 33, z: 40, style: {text: 'Co', font: bold(13), fill: '#000', align: 'right', verticalAlign: 'middle'}},
  {type: 'text', x: 35, y: 148, z: 40, style: {text: 'Mn', font: bold(13), fill: '#000', align: 'left', verticalAlign: 'middle'}},
  {type: 'text', x: 319, y: 148, z: 40, style: {text: 'Mn', font: bold(13), fill: '#000', align: 'right', verticalAlign: 'middle'}},
  {type: 'text', x: 35, y: 262, z: 40, style: {text: 'Si', font: bold(13), fill: '#000', align: 'left', verticalAlign: 'middle'}},
  {type: 'text', x: 318, y: 262, z: 40, style: {text: 'Si', font: bold(13), fill: '#000', align: 'right', verticalAlign: 'middle'}}
];

const chart = echarts.init(document.getElementById('c'), null, {renderer: 'canvas'});
chart.setOption({
  animation: false,
  backgroundColor: '#fff',
  legend: {data: seriesNames.map((n, k) => ({name: n, icon: legendIcons[k], itemStyle: {color: lineColors[k]}})),
    left: 149, top: 23, orient: 'vertical', z: 30,
    backgroundColor: '#fff', borderColor: '#777', borderWidth: 1, borderRadius: 0,
    padding: [3, 4, 3, 4], itemWidth: 15, itemHeight: 1.4, itemGap: 1.3, selectedMode: false,
    textStyle: {fontFamily: FONT, fontWeight: 'bold', fontSize: 10, color: '#000', lineHeight: 9}},
  grid, xAxis, yAxis, series, graphic
});
</script></body></html>
